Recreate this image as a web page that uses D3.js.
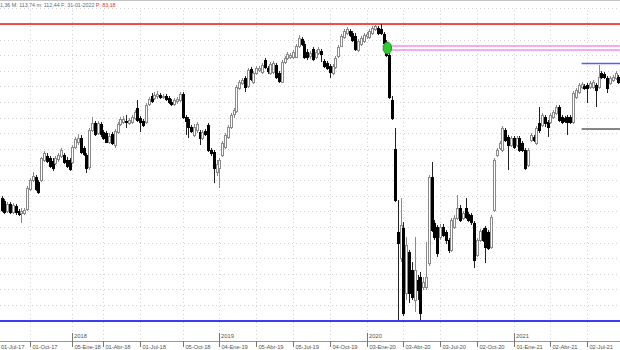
<!DOCTYPE html>
<html><head><meta charset="utf-8">
<script src="https://cdn.jsdelivr.net/npm/d3@7"></script>
<style>body{margin:0;background:#fff}svg{display:block}</style>
</head><body>
<svg id="c" width="620" height="350"></svg>
<script>
// ---- data ----
const firstWeek = "2017-07-14"; // weekly candles, one per Friday
const opens = [
85.4,84.8,82.8,84.2,82.6,83.8,82.8,82.4,82.4,83.2,
87.2,89.0,89.6,88.6,89.0,93.0,93.8,93.4,92.8,92.4,
93.2,93.8,94.0,93.0,93.0,92.6,95.6,96.6,97.4,95.4,
94.0,91.6,99.0,100.4,98.4,100.2,98.6,98.4,96.6,98.2,
96.0,98.6,100.2,100.6,100.8,100.4,100.6,101.4,103.4,101.4,
100.8,100.6,104.2,105.8,105.4,105.8,106.0,105.6,105.8,105.4,
104.6,104.2,104.8,105.0,106.2,101.6,101.2,99.6,98.0,99.0,
98.6,97.4,98.8,100.0,95.0,94.6,90.6,91.4,94.0,95.6,
97.6,99.6,102.2,102.8,107.4,108.4,109.4,107.8,111.2,108.6,
110.4,111.0,110.6,113.0,111.4,110.4,110.6,112.0,110.4,108.6,
112.6,113.4,113.6,113.6,113.6,115.8,117.2,116.2,114.6,113.8,
115.2,113.6,114.4,114.8,112.8,112.4,111.8,110.4,111.6,113.8,
115.8,117.6,118.4,118.8,118.4,117.8,115.0,116.2,116.8,117.8,
117.6,118.4,119.2,119.4,119.2,118.2,116.6,114.0,105.0,95.2,
78.6,73.4,79.4,66.4,74.6,71.0,65.0,69.0,69.6,67.6,
67.6,72.4,89.6,80.4,79.6,77.6,79.6,78.6,77.0,75.0,
79.6,81.4,83.4,81.4,83.4,82.2,82.0,80.4,74.0,77.0,
79.0,79.4,78.6,75.6,83.0,94.0,95.4,95.0,99.0,97.6,
96.0,97.4,96.0,97.4,96.4,95.0,92.0,97.0,97.6,96.4,
100.4,100.0,101.6,100.6,100.6,101.6,102.4,103.6,101.6,101.4,
101.6,101.6,100.6,105.6,106.6,107.6,107.8,108.0,107.6,107.6,
108.0,107.6,110.4,110.2,109.4,108.4,109.0,109.4,109.6];
const highs = [
85.8,85.2,84.6,84.6,84.4,84.2,83.2,83.4,83.4,87.8,
89.4,90.6,90.0,89.0,93.6,94.8,94.4,93.8,93.4,93.8,
94.4,95.4,94.4,93.6,93.4,96.0,97.6,98.2,98.0,95.8,
94.4,99.4,101.6,100.8,100.8,100.6,99.0,98.8,98.4,98.6,
99.2,100.6,101.6,101.8,102.0,101.4,102.0,103.0,105.0,101.8,
101.2,104.4,105.6,106.4,106.6,106.8,106.4,106.2,106.2,105.8,
105.2,105.4,105.6,106.6,106.6,102.0,101.6,100.0,100.2,100.6,
99.0,99.0,99.2,100.4,95.4,95.0,93.0,93.4,96.8,98.4,
100.0,102.4,103.4,108.0,109.0,109.4,109.8,111.4,111.6,110.8,
111.8,111.8,112.4,113.4,111.8,112.6,112.8,112.4,110.8,113.0,
113.8,114.6,114.4,115.0,116.2,118.0,117.6,116.8,115.2,114.8,
115.6,115.0,115.6,115.2,113.2,112.8,112.2,112.2,113.8,116.0,
118.2,119.2,119.6,119.2,118.8,118.4,117.2,117.8,118.4,118.6,
119.2,119.8,120.2,119.8,120.2,118.6,117.0,114.4,105.8,99.4,
85.0,85.4,80.6,77.6,75.0,72.6,77.6,70.0,70.6,69.6,
76.6,90.0,92.6,81.0,80.0,80.2,80.2,79.0,77.4,81.4,
82.0,86.0,84.0,82.8,85.4,82.6,82.4,80.8,77.4,79.2,
79.4,79.8,79.0,82.0,93.4,95.4,96.8,99.8,99.4,98.0,
97.8,97.8,97.8,97.8,96.8,95.4,95.4,98.4,98.0,99.8,
103.6,102.4,102.0,101.0,102.4,103.0,104.0,104.0,102.0,101.8,
102.0,102.0,106.8,107.4,108.4,108.6,108.2,108.4,108.8,109.0,
108.4,112.0,110.8,110.6,109.8,109.8,110.0,110.8,110.0];
const lows = [
82.6,82.2,82.4,82.2,82.2,82.0,81.8,80.4,82.0,82.8,
86.8,88.6,86.8,86.2,88.6,92.6,92.4,91.4,90.8,92.0,
92.6,93.4,92.2,91.4,90.8,92.2,95.2,96.0,94.2,93.8,
90.4,91.0,98.6,97.8,98.0,97.6,97.0,96.4,96.2,96.0,
95.4,98.2,99.8,100.2,99.4,100.0,100.2,101.0,100.6,98.6,
99.6,100.2,103.8,104.4,105.0,105.2,105.2,105.2,104.8,104.2,
103.8,103.8,104.2,104.6,101.2,98.0,97.4,98.4,97.6,98.4,
96.0,97.0,97.8,94.6,93.8,88.4,89.8,87.4,93.6,95.2,
97.2,99.2,101.4,102.4,107.0,108.0,106.6,107.4,108.8,108.2,
110.0,110.6,110.2,111.2,110.2,110.0,110.2,109.2,108.4,108.4,
112.2,113.0,113.2,113.2,113.4,115.4,115.8,113.2,113.0,113.2,
112.8,113.2,114.0,112.6,111.4,111.0,109.4,110.0,111.2,113.4,
115.6,117.2,118.0,117.6,116.6,114.8,114.6,115.8,116.4,117.2,
117.2,118.0,118.8,118.0,118.0,116.0,113.6,105.2,101.0,84.6,
60.8,72.6,61.8,65.0,64.4,65.0,62.6,65.0,60.8,67.0,
67.0,71.8,78.6,77.0,73.6,77.0,77.6,76.2,74.4,74.6,
79.2,81.0,80.6,81.0,81.2,80.6,80.0,71.4,73.6,76.6,
76.6,72.4,75.0,75.2,82.6,93.6,95.0,94.6,96.6,91.0,
95.6,95.2,95.6,94.6,94.6,91.0,91.6,96.6,96.6,96.0,
98.4,99.6,99.6,97.6,100.2,101.2,102.0,100.6,100.2,100.4,
98.0,100.2,100.2,105.2,106.2,107.2,107.0,104.4,107.2,107.2,
103.6,107.2,109.2,109.2,106.4,108.0,108.6,109.0,108.2];
const closes = [
83.0,82.6,84.2,82.6,84.0,82.6,82.2,82.8,83.0,87.4,
89.0,89.8,87.2,86.6,93.4,94.4,92.8,91.8,91.4,93.4,
94.0,95.0,92.6,91.8,91.2,95.6,97.2,97.4,94.6,94.2,
91.4,99.0,100.4,98.2,100.4,98.2,97.4,96.6,97.8,96.4,
98.8,100.2,101.2,101.2,100.6,101.0,101.6,102.6,101.0,100.6,
100.0,104.0,105.2,104.8,106.0,106.2,105.6,105.8,105.2,104.6,
104.2,105.0,105.2,106.2,101.6,100.8,99.6,98.8,99.6,100.2,
97.4,98.6,98.2,95.0,94.4,91.4,92.2,93.0,96.4,98.0,
99.6,102.0,103.0,107.6,108.6,109.0,107.6,111.0,109.2,110.4,
111.4,111.4,112.0,111.6,110.8,112.2,112.4,109.6,108.8,112.6,
113.4,114.2,114.0,114.6,115.8,117.4,116.2,113.6,113.6,114.4,
113.2,114.6,115.2,114.2,111.8,111.4,110.6,111.8,113.4,115.6,
117.8,118.8,119.2,118.0,117.0,115.2,116.8,117.4,118.0,118.2,
118.8,119.4,119.8,118.4,118.4,116.4,114.0,105.6,101.4,85.0,
76.4,80.0,62.4,76.0,66.4,65.6,71.0,67.0,62.4,68.6,
69.6,89.6,79.0,77.6,74.4,79.6,78.0,77.0,75.0,81.0,
81.4,83.4,81.0,82.4,81.6,81.0,80.6,73.0,77.0,78.8,
77.0,75.6,75.4,81.6,93.0,95.0,96.4,99.4,97.0,96.0,
97.4,95.6,97.4,95.0,95.0,91.4,95.0,98.0,97.0,99.4,
99.0,102.0,100.4,99.6,102.0,102.6,103.6,101.0,100.6,100.8,
100.6,100.6,106.4,107.0,108.0,108.2,107.4,107.4,108.4,108.6,
107.0,109.6,109.6,109.6,107.4,109.4,109.6,110.4,108.6];

// axis ticks (placed on the weekly bar that opens each quarter)
const tickDates  = ["2017-06-23","2017-09-22","2018-01-05","2018-03-23","2018-06-22","2018-10-05",
                    "2019-01-04","2019-04-05","2019-07-05","2019-10-04","2020-01-03","2020-04-03",
                    "2020-07-03","2020-10-02","2021-01-01","2021-04-02","2021-07-02"];
const tickLabels = ["01-Jul-17","01-Oct-17","05-Ene-18","01-Abr-18","01-Jul-18","05-Oct-18",
                    "04-Ene-19","05-Abr-19","05-Jul-19","04-Oct-19","03-Ene-20","03-Abr-20",
                    "03-Jul-20","02-Oct-20","01-Ene-21","02-Abr-21","02-Jul-21"];
const yearDates  = ["2018-01-05","2019-01-04","2020-01-03","2021-01-01"];
const yearLabels = ["2018","2019","2020","2021"];

// drawn levels
const maxLevel = 120.2;          // red
const minLevel = 60.8;           // blue
const pinkLevels = [115.8, 115.0];
const markerDate = "2020-02-21", markerValue = 115.4;
const rangeDate = "2021-06-18";
const rangeTop = 112.3, rangeBottom = 99.2;
const gridBase = 60.9, gridStep = 3.12;

const headerMain = "1,36 M: 113,74 m: 112,44 F: 31-01-2022 ";
const headerPrice = "P: 83,18";

// ---- drawing ----
const W = 620, H = 350;
const parse = d3.utcParse("%Y-%m-%d");
const t0 = parse(firstWeek);
const rows = closes.map((c, i) => ({
  date: d3.utcDay.offset(t0, 7 * i), o: opens[i], h: highs[i], l: lows[i], c
}));

const x = d3.scaleUtc().domain([parse("2017-07-10"), parse("2021-09-21")]).range([0, W]);
const y = d3.scaleLinear().domain([55, 125]).range([H, 0]);

const svg = d3.select("#c");
const font = "'Liberation Sans', Arial, sans-serif";

// horizontal dotted grid
const gridVals = d3.range(0, 21).map(k => gridBase + gridStep * k);
svg.append("g").selectAll("line").data(gridVals).join("line")
  .attr("x1", 0).attr("x2", W)
  .attr("y1", d => Math.round(y(d)) + 0.5).attr("y2", d => Math.round(y(d)) + 0.5)
  .attr("stroke", "#d2d2d2").attr("stroke-dasharray", "1,3").attr("shape-rendering", "crispEdges");

// vertical dotted grid
svg.append("g").selectAll("line").data(tickDates).join("line")
  .attr("x1", d => Math.round(x(parse(d))) + 0.5).attr("x2", d => Math.round(x(parse(d))) + 0.5)
  .attr("y1", 10).attr("y2", 341)
  .attr("stroke", "#d2d2d2").attr("stroke-dasharray", "1,3").attr("shape-rendering", "crispEdges");

// header
svg.append("line").attr("x1", 0).attr("x2", W).attr("y1", 0.5).attr("y2", 0.5).attr("stroke", "#c4c4c4");
const ht = svg.append("text").attr("x", 0).attr("y", 7)
  .attr("font-family", font).attr("font-size", 5.3).attr("fill", "#5a6a7a");
ht.append("tspan").text(headerMain);
ht.append("tspan").attr("fill", "#e03030").text(headerPrice);

// red max level
svg.append("line").attr("x1", 0).attr("x2", W)
  .attr("y1", y(maxLevel)).attr("y2", y(maxLevel))
  .attr("stroke", "#ee1111").attr("stroke-width", 1.5);

// pink levels
const mx = x(parse(markerDate));
svg.append("g").selectAll("line").data(pinkLevels).join("line")
  .attr("x1", mx - 4).attr("x2", W)
  .attr("y1", d => y(d)).attr("y2", d => y(d))
  .attr("stroke", "#f08ef0").attr("stroke-width", 1.5);

// range lines at the right
const rx = x(parse(rangeDate));
svg.append("line").attr("x1", rx).attr("x2", W).attr("y1", y(rangeTop)).attr("y2", y(rangeTop))
  .attr("stroke", "#5a5aff").attr("stroke-width", 1.5);
svg.append("line").attr("x1", rx).attr("x2", W).attr("y1", y(rangeBottom)).attr("y2", y(rangeBottom))
  .attr("stroke", "#111").attr("stroke-width", 1.2);

// candles
const cg = svg.append("g").attr("shape-rendering", "crispEdges");
rows.forEach(r => {
  const cx = Math.round(x(r.date));
  const up = r.c >= r.o;
  cg.append("line").attr("x1", cx + 0.5).attr("x2", cx + 0.5)
    .attr("y1", Math.round(y(r.h))).attr("y2", Math.round(y(r.l)))
    .attr("stroke", up ? "#8a8a8a" : "#222");
  const top = Math.round(y(Math.max(r.o, r.c)));
  const bot = Math.round(y(Math.min(r.o, r.c)));
  cg.append("rect").attr("x", cx - 0.5).attr("y", top + 0.5)
    .attr("width", 2).attr("height", Math.max(bot - top, 1))
    .attr("fill", up ? "#fff" : "#000").attr("stroke", up ? "#8a8a8a" : "#000");
});

// blue min level
svg.append("line").attr("x1", 0).attr("x2", W)
  .attr("y1", y(minLevel)).attr("y2", y(minLevel))
  .attr("stroke", "#3c3cf0").attr("stroke-width", 2);

// green marker
svg.append("ellipse").attr("cx", mx + 1).attr("cy", y(markerValue)).attr("rx", 4.2).attr("ry", 6)
  .attr("fill", "#2ecc2e").attr("stroke", "#138a13").attr("stroke-width", 0.8);

// bottom time axis
svg.append("line").attr("x1", 0).attr("x2", W).attr("y1", 341.5).attr("y2", 341.5)
  .attr("stroke", "#9a9a9a").attr("shape-rendering", "crispEdges");
const ax = svg.append("g");
tickDates.forEach((d, i) => {
  const tx = Math.round(x(parse(d))) + 0.5;
  ax.append("line").attr("x1", tx).attr("x2", tx).attr("y1", 341).attr("y2", 347)
    .attr("stroke", "#777").attr("shape-rendering", "crispEdges");
  ax.append("text").attr("x", Math.max(tx + 2, 1)).attr("y", 348.5).text(tickLabels[i])
    .attr("font-family", font).attr("font-size", 5.8).attr("letter-spacing", -0.1).attr("fill", "#555");
});
yearDates.forEach((d, i) => {
  const tx = Math.round(x(parse(d))) + 0.5;
  ax.append("line").attr("x1", tx).attr("x2", tx).attr("y1", 333).attr("y2", 341)
    .attr("stroke", "#777").attr("shape-rendering", "crispEdges");
  ax.append("text").attr("x", tx + 1.5).attr("y", 337.5).text(yearLabels[i])
    .attr("font-family", font).attr("font-size", 5.8).attr("fill", "#555");
});
</script>
</body></html>
